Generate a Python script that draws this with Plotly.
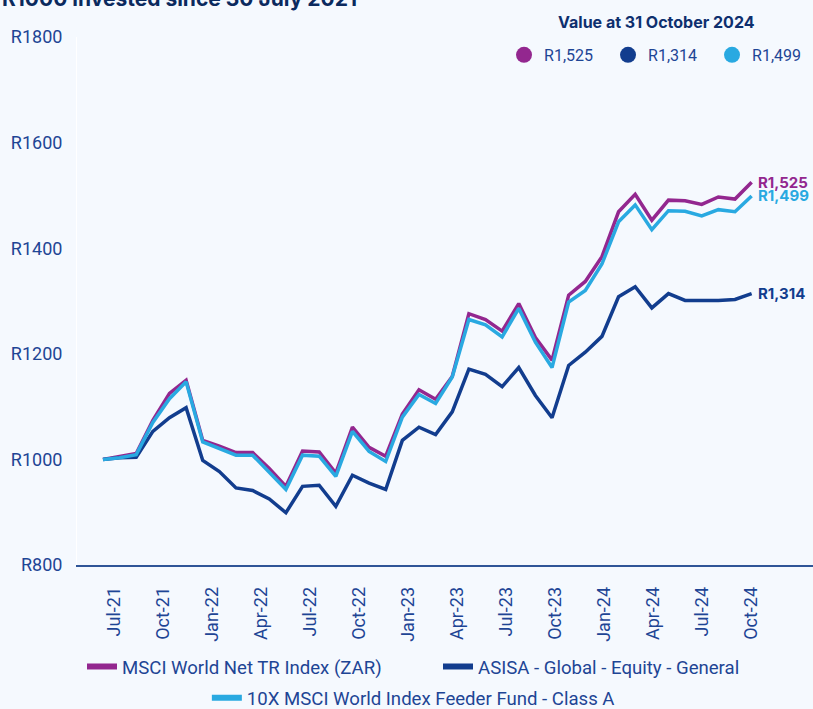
import plotly.graph_objects as go

# ---------------- data ----------------
MONTHS = [
    "Jul-21", "Aug-21", "Sep-21", "Oct-21", "Nov-21", "Dec-21",
    "Jan-22", "Feb-22", "Mar-22", "Apr-22", "May-22", "Jun-22",
    "Jul-22", "Aug-22", "Sep-22", "Oct-22", "Nov-22", "Dec-22",
    "Jan-23", "Feb-23", "Mar-23", "Apr-23", "May-23", "Jun-23",
    "Jul-23", "Aug-23", "Sep-23", "Oct-23", "Nov-23", "Dec-23",
    "Jan-24", "Feb-24", "Mar-24", "Apr-24", "May-24", "Jun-24",
    "Jul-24", "Aug-24", "Sep-24", "Oct-24",
]

MSCI_WORLD = [
    1000, 1006, 1011, 1074, 1125, 1150, 1036, 1025, 1013, 1013,
    983, 949, 1016, 1014, 974, 1061, 1023, 1006, 1086, 1132,
    1114, 1157, 1276, 1265, 1243, 1295, 1231, 1188, 1311, 1337,
    1384, 1469, 1502, 1453, 1491, 1490, 1483, 1497, 1493, 1525,
]

ASISA_GLOBAL = [
    1000, 1003, 1004, 1053, 1079, 1098, 998, 977, 946, 941,
    925, 899, 949, 951, 911, 970, 955, 943, 1036, 1061,
    1047, 1090, 1171, 1161, 1138, 1174, 1121, 1079, 1178, 1203,
    1233, 1308, 1327, 1287, 1314, 1301, 1301, 1301, 1303, 1314,
]

TENX_FEEDER = [
    1000, 1003, 1009, 1070, 1115, 1147, 1033, 1020, 1008, 1008,
    976, 943, 1008, 1006, 968, 1053, 1015, 996, 1080, 1123,
    1106, 1156, 1265, 1255, 1232, 1286, 1222, 1174, 1298, 1320,
    1370, 1450, 1482, 1435, 1471, 1470, 1461, 1473, 1469, 1499,
]

SERIES_NAMES = [
    "MSCI World Net TR Index (ZAR)",
    "ASISA - Global - Equity - General",
    "10X MSCI World Index Feeder Fund - Class A",
]

X_TICK_LABELS = MONTHS[::3]
Y_TICK_VALUES = [800, 1000, 1200, 1400, 1600, 1800]
Y_TICK_LABELS = ["R800", "R1000", "R1200", "R1400", "R1600", "R1800"]

TITLE = "R1000 invested since 30 July 2021"
VALUE_TITLE = "Value at 31 October 2024"

# ---------------- style ----------------
COLORS = ["#93278F", "#123D8E", "#29A9E1"]
TEXT_BLUE = "#1E4595"
NAVY = "#0E2F6E"
BG = "#F5F9FE"

x_idx = list(range(len(MONTHS)))
series = [MSCI_WORLD, ASISA_GLOBAL, TENX_FEEDER]

fig = go.Figure()

# data lines (purple, navy, light blue on top)
for name, vals, col in zip(SERIES_NAMES, series, COLORS):
    fig.add_trace(go.Scatter(
        x=x_idx, y=vals, mode="lines", name=name,
        line=dict(color=col, width=3.5),
        showlegend=False, hoverinfo="skip",
    ))

# bottom legend entries
legend_ids = ["legend", "legend", "legend2"]
for name, col, lg in zip(SERIES_NAMES, COLORS, legend_ids):
    fig.add_trace(go.Scatter(
        x=[None], y=[None], mode="lines", name=name,
        line=dict(color=col, width=6),
        showlegend=True, legend=lg,
    ))

# top-right value legend
for vals, col in zip(series, COLORS):
    fig.add_trace(go.Scatter(
        x=[None], y=[None], mode="markers", name=f"R{vals[-1]:,}",
        marker=dict(color=col, size=18, symbol="circle"),
        showlegend=True, legend="legend3",
    ))

# end-of-line labels
for vals, col in zip(series, COLORS):
    fig.add_annotation(
        x=x_idx[-1], y=vals[-1], text=f"<b>R{vals[-1]:,}</b>",
        xanchor="left", yanchor="middle", xshift=4, showarrow=False,
        font=dict(family="Inter", size=15, color=col),
    )

# cut-off chart title
fig.add_annotation(
    xref="paper", yref="paper", x=-0.1046, y=1.0455,
    xanchor="left", yanchor="bottom", showarrow=False,
    text=f"<b>{TITLE}</b>",
    font=dict(family="Inter", size=21, color="#0B2A5E"),
)

# value-at heading
fig.add_annotation(
    xref="paper", yref="paper", x=0.788, y=1.028,
    xanchor="center", yanchor="middle", showarrow=False,
    text=f"<b>{VALUE_TITLE}</b>",
    font=dict(family="Inter", size=16, color=NAVY),
)

TICK_FIRST = 0.66
TICK_LAST = 38.96
n_t = len(X_TICK_LABELS)
tickvals = [TICK_FIRST + (TICK_LAST - TICK_FIRST) * k / (n_t - 1) for k in range(n_t)]

fig.update_layout(
    width=813, height=709, autosize=False,
    margin=dict(l=77, r=0, t=37, b=144, autoexpand=False),
    paper_bgcolor=BG, plot_bgcolor=BG,
    font=dict(family="Roboto", color=TEXT_BLUE),
    xaxis=dict(
        range=[-1.56, 42.69], showgrid=False, zeroline=False,
        showline=True, linecolor="#2F5597", linewidth=1.5,
        tickmode="array", tickvals=tickvals, ticktext=X_TICK_LABELS,
        tickangle=-90, ticks="", ticklabelstandoff=13,
        tickfont=dict(family="Roboto", size=18, color=TEXT_BLUE),
        fixedrange=True,
    ),
    yaxis=dict(
        range=[800, 1800], showgrid=False, zeroline=False,
        showline=True, linecolor="#FFFFFF", linewidth=1,
        tickmode="array", tickvals=Y_TICK_VALUES, ticktext=Y_TICK_LABELS,
        ticks="", ticklabelstandoff=10,
        tickfont=dict(family="Roboto", size=18, color=TEXT_BLUE),
        fixedrange=True,
    ),
    legend=dict(
        orientation="h", x=0.0068, xanchor="left", y=-0.193, yanchor="middle",
        font=dict(family="Roboto", size=18.6, color=TEXT_BLUE),
        bgcolor="rgba(0,0,0,0)", entrywidth=311, entrywidthmode="pixels",
    ),
    legend2=dict(
        orientation="h", x=0.457, xanchor="center", y=-0.252, yanchor="middle",
        font=dict(family="Roboto", size=18.6, color=TEXT_BLUE),
        bgcolor="rgba(0,0,0,0)",
    ),
    legend3=dict(
        orientation="h", x=0.5802, xanchor="left", y=0.966, yanchor="middle",
        font=dict(family="Roboto", size=16, color=TEXT_BLUE),
        bgcolor="rgba(0,0,0,0)", entrywidth=59, entrywidthmode="pixels",
    ),
    showlegend=True,
)

POST_JS = (
    "document.documentElement.style.margin='0';"
    "document.body.style.margin='0';"
    "document.body.style.padding='0';"
    "document.body.style.overflow='hidden';"
    "document.documentElement.style.overflow='hidden';"
)

fig.write_html(
    "out.html", post_script=POST_JS,
    config={"responsive": False, "displayModeBar": False},
)
